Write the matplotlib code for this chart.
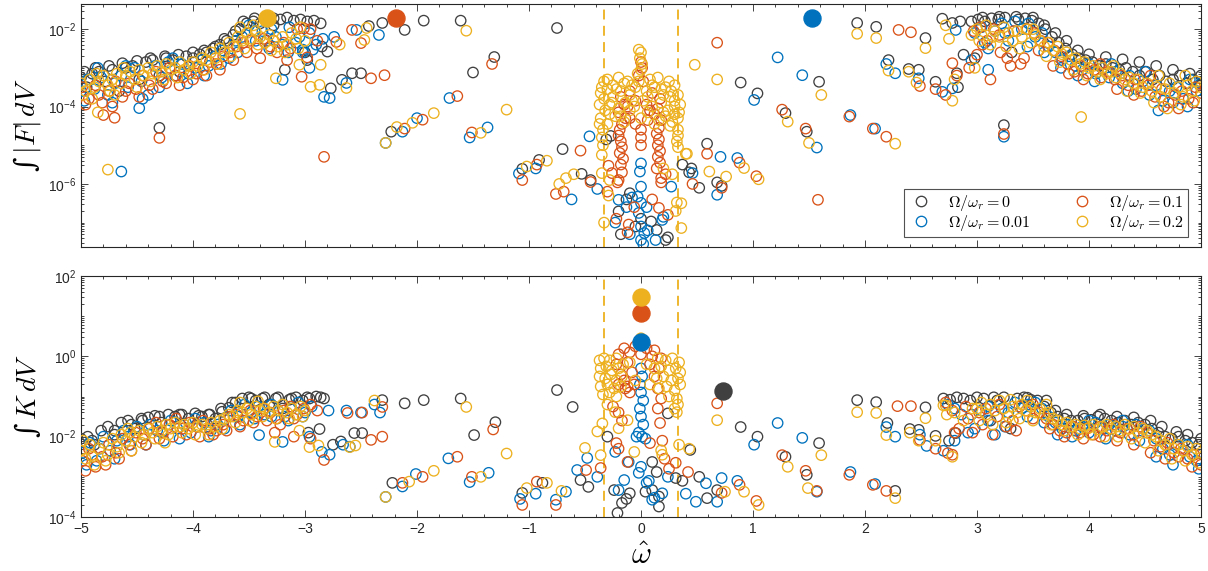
import numpy as np
import matplotlib
matplotlib.use("Agg")
import matplotlib.pyplot as plt
from matplotlib.lines import Line2D
from matplotlib.ticker import FixedLocator, LogLocator, MultipleLocator, NullFormatter, LogFormatterSciNotation

plt.rcParams["mathtext.fontset"] = "cm"
plt.rcParams["font.family"] = ["Liberation Sans", "DejaVu Sans"]

# (omega_hat, log10 value) pairs for each rotation rate
ratio_labels = [r"$\Omega/\omega_r = 0$", r"$\Omega/\omega_r = 0.01$",
                r"$\Omega/\omega_r = 0.1$", r"$\Omega/\omega_r = 0.2$"]
colors = ["#404040", "#0072BD", "#D95319", "#EDB120"]

# ---------------- integral of |F| ----------------
top_w0 = [
    (-5.00, -3.25), (-4.95, -3.50), (-4.90, -3.15), (-4.84, -3.10), (-4.78, -3.35), (-4.72, -3.05),
    (-4.66, -3.60), (-4.60, -3.00), (-4.54, -2.95), (-4.48, -3.30), (-4.42, -2.85), (-4.36, -2.80),
    (-4.30, -3.20), (-4.24, -2.75), (-4.18, -2.80), (-4.12, -3.10), (-4.06, -2.70), (-4.00, -2.75),
    (-3.94, -2.65), (-3.88, -2.60), (-3.82, -2.50), (-3.76, -2.40), (-3.70, -2.30), (-3.64, -2.15),
    (-3.58, -2.00), (-3.52, -1.85), (-3.46, -1.80), (-3.40, -1.85), (-3.34, -2.30), (-3.28, -1.90),
    (-3.22, -1.75), (-3.16, -1.70), (-3.10, -1.78), (-3.04, -1.75), (-2.98, -1.80), (-2.92, -1.78),
    (-2.86, -1.85),
    (-4.97, -3.10), (-4.87, -3.00), (-4.75, -2.95), (-4.63, -2.88), (-4.50, -2.82), (-4.38, -2.75),
    (-4.25, -2.70), (-4.13, -2.66), (-4.00, -2.60), (-3.90, -2.55), (-3.80, -2.45), (-3.72, -2.25),
    (-3.62, -2.05), (-3.55, -1.80), (-3.45, -1.72), (-3.35, -1.75), (-3.28, -1.72),
    (2.95, -1.80), (3.01, -1.75), (3.07, -1.80), (3.13, -1.72), (3.19, -1.75), (3.25, -1.70),
    (3.31, -2.60), (3.37, -1.75), (3.43, -1.72), (3.49, -1.78), (3.55, -1.85), (3.61, -2.00),
    (3.67, -2.20), (3.73, -2.35), (3.79, -2.50), (3.85, -2.65), (3.91, -2.75), (3.97, -2.80),
    (4.03, -2.85), (4.09, -2.95), (4.15, -2.90), (4.21, -3.00), (4.27, -3.05), (4.33, -3.00),
    (4.39, -3.10), (4.45, -3.20), (4.51, -3.10), (4.57, -3.30), (4.63, -3.20), (4.69, -3.35),
    (4.75, -3.30), (4.81, -3.20), (4.87, -3.40), (4.93, -3.30), (4.99, -3.45),
    (3.05, -1.70), (3.20, -1.68), (3.35, -1.68), (3.50, -1.70), (3.60, -1.90), (3.70, -2.10),
    (3.80, -2.30), (3.90, -2.55), (4.00, -2.65), (4.15, -2.72), (4.30, -2.78), (4.45, -2.85),
    (4.60, -2.95), (4.75, -3.05), (4.90, -3.15), (5.00, -3.20),
    (-4.30, -4.55), (-3.00, -2.60), (-2.85, -2.45), (-2.80, -2.58), (-2.98, -2.80), (-3.18, -3.05),
    (-2.77, -3.53), (-2.67, -3.31), (-2.58, -3.14), (-2.50, -3.14), (-2.43, -1.92), (-2.31, -1.84),
    (-2.11, -2.02), (-1.94, -1.78), (-1.61, -1.78), (-0.75, -1.97), (-2.23, -4.65), (-1.50, -3.12),
    (-1.31, -2.72), (-1.06, -5.61), (-0.91, -5.38), (-0.70, -5.10), (-0.53, -5.74), (-0.45, -5.90),
    (-0.27, -4.76), (-0.31, -4.85), (-0.10, -6.24), (-0.13, -6.40), (-0.20, -6.71), (-0.18, -7.30),
    (0.00, -6.90), (-0.05, -7.10), (0.09, -6.97), (0.14, -7.19), (0.22, -7.45), (0.24, -7.38),
    (0.37, -5.50), (0.45, -5.60), (0.43, -5.70), (0.52, -6.10), (0.59, -4.96), (0.68, -5.96),
    (0.72, -6.05), (0.89, -3.38), (1.04, -3.66), (1.29, -4.17), (1.48, -4.65), (1.59, -3.36),
    (1.93, -1.84), (2.10, -1.94), (2.54, -2.23), (2.69, -1.73), (2.78, -1.84), (2.85, -1.80),
    (2.21, -2.80), (2.39, -3.03), (2.48, -3.05), (2.63, -3.36), (2.82, -3.14), (2.83, -3.50),
    (2.88, -2.66), (2.98, -2.75), (3.24, -4.48),
]

top_w001 = [
    (-5.00, -3.60), (-4.94, -3.30), (-4.88, -3.55), (-4.82, -3.25), (-4.76, -3.70), (-4.70, -3.40),
    (-4.64, -3.20), (-4.58, -3.50), (-4.52, -3.00), (-4.46, -3.35), (-4.40, -3.70), (-4.34, -2.95),
    (-4.28, -3.25), (-4.22, -2.85), (-4.16, -3.20), (-4.10, -2.90), (-4.04, -3.15), (-3.98, -3.00),
    (-3.92, -2.80), (-3.86, -2.95), (-3.80, -2.70), (-3.74, -2.55), (-3.68, -2.75), (-3.62, -2.30),
    (-3.56, -2.20), (-3.50, -1.90), (-3.44, -2.30), (-3.38, -2.05), (-3.32, -2.50), (-3.26, -2.20),
    (-3.20, -2.40), (-3.14, -1.95), (-3.08, -2.35), (-3.02, -2.60), (-2.96, -2.10), (-2.90, -2.40),
    (-2.84, -2.25),
    (-4.97, -3.85), (-4.85, -3.00), (-4.72, -3.90), (-4.60, -2.95), (-4.45, -3.80), (-4.30, -3.50),
    (-4.18, -2.75), (-4.05, -3.40), (-3.90, -3.20), (-3.75, -2.90), (-3.60, -2.60), (-3.45, -2.05),
    (-3.30, -2.00), (-3.15, -2.60), (-3.05, -2.20),
    (2.98, -2.10), (3.04, -1.95), (3.10, -2.50), (3.16, -2.05), (3.22, -1.85), (3.28, -2.30),
    (3.34, -1.80), (3.40, -2.00), (3.46, -1.85), (3.52, -2.20), (3.58, -2.10), (3.64, -2.45),
    (3.70, -2.60), (3.76, -2.80), (3.82, -2.70), (3.88, -2.95), (3.94, -3.05), (4.00, -2.90),
    (4.06, -3.15), (4.12, -3.00), (4.18, -3.25), (4.24, -3.10), (4.30, -3.40), (4.36, -3.20),
    (4.42, -3.55), (4.48, -3.35), (4.54, -3.70), (4.60, -3.45), (4.66, -3.85), (4.72, -3.60),
    (4.78, -3.50), (4.84, -3.80), (4.90, -3.30), (4.96, -3.60),
    (3.07, -2.35), (3.25, -2.10), (3.45, -2.45), (3.60, -2.60), (3.75, -3.00), (3.90, -3.20),
    (4.05, -3.35), (4.20, -2.90), (4.35, -3.60), (4.50, -3.10), (4.62, -4.10), (4.75, -3.90),
    (4.88, -4.00), (5.00, -3.40),
    (-4.64, -5.68), (-4.48, -4.04), (-2.54, -2.02), (-2.34, -2.15), (-3.02, -2.53), (-2.93, -2.53),
    (-2.74, -2.20), (-3.20, -3.31), (-2.96, -3.00), (-2.83, -3.75), (-2.78, -3.78), (-2.63, -3.39),
    (-2.28, -4.94), (-2.13, -4.65), (-2.00, -4.30), (-1.71, -3.78), (-1.53, -4.80), (-1.37, -4.54),
    (-1.09, -5.73), (-0.94, -5.60), (-0.62, -6.40), (-0.46, -4.77), (-0.39, -6.13),
    (0.00, -5.47), (-0.01, -5.68), (0.00, -6.07), (-0.03, -6.33), (0.00, -6.49), (-0.02, -6.75),
    (0.00, -7.10), (0.03, -7.27), (0.00, -7.45), (-0.08, -6.35), (-0.20, -6.41), (-0.13, -6.60),
    (0.05, -6.60), (0.13, -7.45), (0.19, -6.93), (0.27, -6.07), (-0.23, -7.00), (0.20, -6.85),
    (0.06, -7.20), (-0.10, -7.30), (0.02, -7.55),
    (0.46, -5.72), (0.71, -5.30), (0.68, -6.28), (0.86, -5.33), (1.01, -3.83), (1.22, -2.73),
    (1.44, -3.19), (1.57, -5.06), (1.87, -4.22), (2.09, -4.57), (2.19, -2.90), (2.27, -3.14),
    (2.48, -3.27), (2.69, -3.62), (2.78, -3.53), (2.81, -2.02), (2.95, -2.80), (3.10, -3.05),
    (3.24, -4.78),
]

top_w01 = [
    (-4.99, -3.50), (-4.93, -3.80), (-4.87, -3.45), (-4.81, -3.90), (-4.75, -3.60), (-4.69, -3.35),
    (-4.63, -3.75), (-4.57, -3.40), (-4.51, -3.55), (-4.45, -3.20), (-4.39, -3.45), (-4.33, -3.10),
    (-4.27, -3.35), (-4.21, -3.00), (-4.15, -3.20), (-4.09, -3.25), (-4.03, -2.95), (-3.97, -3.15),
    (-3.91, -3.05), (-3.85, -2.85), (-3.79, -2.90), (-3.73, -2.70), (-3.67, -2.60), (-3.61, -2.45),
    (-3.55, -2.35), (-3.49, -2.30), (-3.43, -2.50), (-3.37, -2.25), (-3.31, -2.45), (-3.25, -2.60),
    (-3.19, -2.35), (-3.13, -2.50), (-3.07, -2.00), (-3.01, -1.98), (-2.95, -2.00), (-2.89, -2.30),
    (-4.96, -3.95), (-4.84, -3.70), (-4.72, -4.00), (-4.60, -3.60), (-4.48, -3.75), (-4.36, -3.55),
    (-4.24, -3.40), (-4.12, -3.45), (-4.00, -3.30), (-3.88, -3.20), (-3.76, -3.05), (-3.64, -2.80),
    (-3.52, -2.60), (-3.40, -2.75), (-3.28, -2.30), (-3.16, -2.80),
    (2.97, -2.05), (3.03, -1.95), (3.09, -2.30), (3.15, -2.00), (3.21, -2.60), (3.27, -2.75),
    (3.33, -2.05), (3.39, -2.90), (3.45, -2.00), (3.51, -2.10), (3.57, -2.30), (3.63, -2.35),
    (3.69, -2.55), (3.75, -2.70), (3.81, -2.90), (3.87, -3.10), (3.93, -2.95), (3.99, -3.15),
    (4.05, -3.05), (4.11, -3.25), (4.17, -3.10), (4.23, -3.30), (4.29, -3.20), (4.35, -3.45),
    (4.41, -3.30), (4.47, -3.60), (4.53, -3.45), (4.59, -3.75), (4.65, -3.55), (4.71, -3.90),
    (4.77, -3.70), (4.83, -3.60), (4.89, -3.80), (4.95, -3.50), (5.00, -3.65),
    (3.05, -2.40), (3.20, -2.15), (3.30, -2.95), (3.42, -2.75), (3.55, -2.55), (3.68, -2.95),
    (3.82, -3.15), (3.95, -3.30), (4.10, -2.90), (4.25, -3.55), (4.40, -3.70), (4.55, -3.20),
    (4.67, -4.00), (4.80, -4.05), (4.93, -3.90),
    (-4.80, -4.22), (-4.70, -4.29), (-4.30, -4.81), (-2.58, -2.02), (-2.50, -2.36), (-2.72, -2.33),
    (-2.98, -2.73), (-3.03, -3.23), (-2.41, -3.27), (-2.29, -3.19), (-2.83, -5.30), (-2.11, -4.57),
    (-1.95, -4.34), (-1.64, -3.73), (-1.33, -2.90), (-1.51, -4.67), (-1.06, -5.90), (-0.93, -5.50),
    (-0.76, -6.26), (-0.69, -6.20), (-0.54, -5.14), (-0.45, -5.95),
    (0.00, -2.85), (0.01, -3.00), (-0.02, -3.20), (0.02, -3.35), (-0.10, -3.60), (0.10, -3.65),
    (-0.18, -3.75), (0.17, -3.80), (-0.05, -3.85), (0.05, -3.95), (-0.15, -3.95), (0.15, -4.05),
    (-0.20, -4.15), (0.12, -4.20), (-0.10, -4.30), (0.18, -4.35), (-0.17, -4.45), (0.16, -4.55),
    (-0.19, -4.60), (0.00, -4.60), (0.00, -4.80), (0.00, -5.00), (-0.20, -4.75), (0.14, -4.70),
    (-0.18, -4.90), (0.16, -4.85), (-0.17, -5.05), (0.15, -5.00), (-0.19, -5.20), (0.17, -5.15),
    (-0.16, -5.35), (0.15, -5.30), (-0.18, -5.50), (0.17, -5.45), (-0.17, -5.70), (0.14, -5.60),
    (-0.20, -5.90), (0.18, -5.85), (-0.29, -5.53), (-0.26, -5.72), (-0.21, -5.96), (0.18, -5.96),
    (0.22, -5.75), (-0.22, -6.90), (-0.11, -7.05), (-0.12, -7.25), (0.10, -6.40), (0.16, -6.62),
    (0.24, -6.80), (-0.30, -6.20), (-0.06, -6.60),
    (-0.12, -4.00), (0.08, -4.10), (-0.05, -4.45), (0.06, -4.35), (-0.14, -4.30),
    (0.68, -2.35), (0.59, -5.22), (0.72, -6.10), (0.88, -5.45), (1.03, -5.80), (1.26, -4.08),
    (1.47, -4.57), (1.58, -6.41), (1.86, -4.26), (2.07, -4.57), (2.19, -4.78), (2.30, -2.02),
    (2.41, -2.08), (2.49, -3.47), (2.63, -3.55), (2.72, -3.70), (2.78, -2.88), (2.82, -3.20),
    (3.00, -2.66), (2.93, -3.00), (3.12, -3.30), (3.24, -4.71), (0.46, -6.00),
]

top_w02 = [
    (-5.00, -3.40), (-4.96, -3.60), (-4.92, -3.30), (-4.88, -3.50), (-4.84, -3.35), (-4.80, -3.20),
    (-4.76, -3.45), (-4.72, -3.30), (-4.68, -3.15), (-4.64, -3.40), (-4.60, -3.20), (-4.56, -3.10),
    (-4.52, -3.30), (-4.48, -3.05), (-4.44, -3.20), (-4.40, -3.00), (-4.36, -3.15), (-4.32, -2.95),
    (-4.28, -3.10), (-4.24, -2.90), (-4.20, -3.05), (-4.16, -3.00), (-4.12, -2.85), (-4.08, -3.05),
    (-4.04, -2.95), (-4.00, -2.85), (-3.96, -2.95), (-3.92, -2.75), (-3.88, -2.80), (-3.84, -2.60),
    (-3.80, -2.75), (-3.76, -2.50), (-3.72, -2.60), (-3.68, -2.35), (-3.64, -2.45), (-3.60, -2.20),
    (-3.56, -2.30), (-3.52, -2.10), (-3.48, -2.25), (-3.44, -2.05), (-3.40, -2.20), (-3.36, -2.35),
    (-3.32, -2.15), (-3.28, -2.30), (-3.24, -2.45), (-3.20, -2.20), (-3.16, -2.40), (-3.12, -2.10),
    (-3.08, -2.25), (-3.04, -1.95), (-3.00, -2.30), (-4.90, -3.80), (-4.70, -3.70),
    (-4.98, -3.70), (-4.86, -3.15), (-4.74, -3.60), (-4.62, -3.00), (-4.50, -3.50), (-4.38, -3.35),
    (-4.26, -3.30), (-4.14, -3.25), (-4.02, -3.15), (-3.90, -3.05), (-3.78, -2.90), (-3.66, -2.70),
    (-3.54, -2.50), (-3.42, -2.40), (-3.30, -2.55), (-3.18, -2.60), (-3.06, -2.50), (-3.58, -1.95),
    (-3.46, -1.90),
    (3.00, -2.00), (3.04, -2.15), (3.08, -1.90), (3.12, -2.40), (3.16, -2.05), (3.20, -2.20),
    (3.24, -1.95), (3.28, -2.10), (3.32, -2.30), (3.36, -2.05), (3.40, -2.20), (3.44, -2.00),
    (3.48, -2.35), (3.52, -2.15), (3.56, -2.30), (3.60, -2.45), (3.64, -2.35), (3.68, -2.55),
    (3.72, -2.45), (3.76, -2.65), (3.80, -2.60), (3.84, -2.80), (3.88, -2.75), (3.92, -2.90),
    (3.96, -2.85), (4.00, -3.00), (4.04, -2.95), (4.08, -3.10), (4.12, -3.00), (4.16, -3.15),
    (4.20, -3.10), (4.24, -3.25), (4.28, -3.15), (4.32, -3.30), (4.36, -3.25), (4.40, -3.40),
    (4.44, -3.30), (4.48, -3.50), (4.52, -3.40), (4.56, -3.60), (4.60, -3.50), (4.64, -3.75),
    (4.68, -3.55), (4.72, -3.40), (4.76, -3.65), (4.80, -3.50), (4.84, -3.75), (4.88, -3.45),
    (4.92, -3.60), (4.96, -3.35), (5.00, -3.50),
    (3.02, -2.30), (3.14, -2.20), (3.26, -2.45), (3.38, -2.50), (3.50, -2.00), (3.62, -2.70),
    (3.74, -2.85), (3.86, -3.05), (3.98, -3.20), (4.10, -3.30), (4.22, -2.95), (4.34, -3.60),
    (4.46, -3.65), (4.58, -3.90), (4.70, -4.05), (4.82, -3.95), (4.94, -3.85), (4.62, -3.20),
    (4.86, -3.20),
    (-4.76, -5.63), (-3.58, -4.19), (-4.85, -4.15), (-2.47, -2.28), (-2.45, -1.97), (-2.69, -2.40),
    (-3.05, -2.92), (-2.86, -2.92), (-2.95, -3.49), (-2.87, -3.44), (-3.26, -3.27), (-2.63, -3.52),
    (-2.28, -4.94), (-2.18, -4.53), (-2.04, -4.42), (-1.85, -4.17), (-1.56, -2.04), (-1.43, -4.68),
    (-1.20, -4.08), (-1.02, -5.55), (-0.84, -5.40), (-0.73, -6.00), (-0.67, -5.85), (-0.60, -5.75),
    (-0.02, -2.53), (0.00, -2.60), (-0.01, -2.75), (0.01, -2.90), (0.00, -3.05), (-0.03, -3.15),
    (-0.30, -3.30), (-0.20, -3.25), (-0.12, -3.35), (0.08, -3.30), (0.15, -3.25), (0.25, -3.35),
    (0.30, -3.45), (-0.35, -3.50), (-0.25, -3.45), (0.22, -3.50), (-0.08, -3.45),
    (-0.36, -3.65), (-0.30, -3.55), (-0.25, -3.75), (-0.18, -3.60), (-0.10, -3.70), (-0.05, -3.50),
    (0.05, -3.60), (0.12, -3.50), (0.20, -3.70), (0.27, -3.60), (0.33, -3.70), (0.30, -3.85),
    (0.06, -3.75), (-0.33, -3.80), (0.35, -3.95),
    (-0.37, -3.95), (-0.32, -4.10), (-0.26, -3.90), (-0.20, -4.05), (-0.14, -3.90), (-0.06, -4.00),
    (0.02, -3.85), (0.10, -4.00), (0.18, -3.90), (0.24, -4.10), (0.30, -4.00), (0.34, -4.15),
    (-0.36, -4.30), (-0.30, -4.45), (-0.23, -4.25), (-0.15, -4.40), (0.00, -4.30), (0.16, -4.35),
    (0.22, -4.25), (0.28, -4.40), (0.33, -4.30), (-0.28, -4.20), (0.26, -4.50),
    (-0.33, -3.35), (-0.22, -3.55), (-0.15, -3.40), (-0.02, -3.35), (0.10, -3.45), (0.18, -3.55),
    (0.26, -3.75), (-0.28, -3.95), (-0.10, -4.10), (0.06, -4.15), (0.20, -4.15), (-0.18, -4.25),
    (0.12, -4.45), (0.30, -4.20), (-0.37, -4.45), (-0.08, -3.85),
    (-0.34, -4.60), (-0.35, -4.80), (-0.34, -5.00), (0.33, -4.60), (0.33, -4.75), (0.32, -4.90),
    (0.33, -5.05), (-0.35, -5.25), (-0.35, -5.72), (-0.29, -6.30), (-0.33, -7.00), (0.32, -6.48),
    (0.36, -7.14), (0.31, -6.70), (0.40, -5.22), (0.36, -6.50), (-0.28, -5.90), (0.20, -5.60),
    (0.28, -5.75),
    (0.48, -2.92), (0.68, -3.30), (0.41, -5.22), (0.61, -5.68), (0.76, -5.81), (0.92, -5.59),
    (1.05, -5.88), (1.31, -4.39), (1.50, -4.94), (1.61, -3.70), (1.93, -2.12), (2.10, -2.23),
    (2.54, -2.49), (2.27, -4.96), (2.21, -3.07), (2.39, -3.10), (2.46, -3.38), (2.78, -3.85),
    (2.72, -1.90), (2.75, -2.25), (3.93, -4.27), (2.80, -3.30), (2.98, -3.00), (2.95, -2.15),
]

# filled markers: one per series where drawn
top_filled = [(None, None), (1.53, -1.71), (-2.19, -1.71), (-3.34, -1.71)]

# ---------------- integral of K ----------------
bot_w0 = [
    (-5.00, -2.05), (-4.94, -2.00), (-4.88, -2.20), (-4.82, -1.85), (-4.76, -1.75), (-4.70, -1.95),
    (-4.64, -1.65), (-4.58, -1.60), (-4.52, -1.80), (-4.46, -1.55), (-4.40, -1.52), (-4.34, -1.48),
    (-4.28, -1.65), (-4.22, -1.45), (-4.16, -1.50), (-4.10, -1.45), (-4.04, -1.55), (-3.98, -1.42),
    (-3.92, -1.50), (-3.86, -1.45), (-3.80, -1.55), (-3.74, -1.38), (-3.68, -1.28), (-3.62, -1.15),
    (-3.56, -1.05), (-3.50, -1.02), (-3.44, -1.10), (-3.38, -1.05), (-3.32, -1.20), (-3.26, -1.05),
    (-3.20, -1.30), (-3.14, -1.08), (-3.08, -1.02), (-3.02, -1.10), (-2.96, -1.05), (-2.90, -1.00),
    (-2.86, -1.02),
    (-4.90, -2.10), (-4.70, -1.85), (-4.55, -1.70), (-4.45, -1.60), (-4.30, -1.50), (-4.12, -1.45),
    (-3.95, -1.48), (-3.85, -1.45), (-3.75, -1.30), (-3.65, -1.15), (-3.48, -1.05), (-3.36, -1.02),
    (-3.24, -1.02), (-3.12, -1.05), (-2.98, -1.02),
    (2.70, -1.05), (2.76, -1.08), (2.82, -1.02), (2.88, -1.05), (2.94, -1.10), (3.00, -1.02),
    (3.06, -1.05), (3.12, -1.60), (3.18, -1.10), (3.24, -1.02), (3.30, -1.80), (3.36, -1.05),
    (3.42, -1.02), (3.48, -1.08), (3.54, -1.10), (3.60, -1.25), (3.66, -1.40), (3.72, -1.50),
    (3.78, -1.55), (3.84, -1.60), (3.90, -1.60), (3.96, -1.55), (4.02, -1.58), (4.08, -1.50),
    (4.14, -1.55), (4.20, -1.60), (4.26, -1.65), (4.32, -1.60), (4.38, -1.70), (4.44, -1.65),
    (4.50, -1.70), (4.56, -1.80), (4.62, -1.90), (4.68, -2.00), (4.74, -2.05), (4.80, -2.00),
    (4.86, -2.10), (4.92, -2.15), (4.98, -2.20),
    (3.15, -1.02), (3.45, -1.03), (3.62, -1.10), (3.70, -1.35), (3.80, -1.45), (3.95, -1.48),
    (4.10, -1.45), (4.25, -1.50), (4.40, -1.52), (4.55, -1.60), (4.65, -1.75), (4.78, -1.88),
    (4.88, -1.95), (5.00, -2.05),
    (-2.83, -1.05), (-2.31, -1.09), (-2.11, -1.17), (-1.94, -1.09), (-1.61, -1.05), (-1.30, -1.64),
    (-1.49, -1.96), (-2.87, -1.81), (-2.97, -1.90), (-2.75, -2.20), (-2.68, -2.12), (-2.56, -1.91),
    (-2.49, -1.91), (-2.22, -3.15),
    (-0.75, -0.84), (-0.61, -1.26), (-0.30, -2.00), (-0.24, -3.33), (-0.21, -3.90), (-0.17, -3.65),
    (-0.13, -3.55), (-0.10, -3.41), (0.04, -3.37), (0.10, -2.63), (0.14, -2.88), (0.10, -3.33),
    (0.16, -3.49), (0.16, -3.74), (0.24, -1.42), (0.31, -3.03), (0.37, -3.10), (0.44, -2.33),
    (0.52, -3.00), (0.59, -3.53), (0.68, -3.33), (-0.54, -3.08), (-0.47, -3.25), (-0.88, -3.15),
    (-1.06, -3.40),
    (0.89, -1.76), (1.04, -2.00), (1.29, -2.50), (1.48, -2.95), (1.59, -2.16), (1.93, -1.09),
    (2.10, -1.14), (2.20, -1.66), (2.27, -3.35), (2.40, -1.81), (2.48, -1.83), (2.54, -1.27),
    (2.63, -1.98), (2.81, -1.91), (2.75, -2.10),
]

bot_w001 = [
    (-4.98, -2.40), (-4.92, -2.15), (-4.86, -2.60), (-4.80, -2.00), (-4.74, -2.35), (-4.68, -2.10),
    (-4.62, -1.85), (-4.56, -2.20), (-4.50, -1.75), (-4.44, -1.95), (-4.38, -1.70), (-4.32, -1.85),
    (-4.26, -2.10), (-4.20, -1.60), (-4.14, -1.80), (-4.08, -1.70), (-4.02, -1.90), (-3.96, -1.75),
    (-3.90, -1.65), (-3.84, -1.85), (-3.78, -1.70), (-3.72, -1.55), (-3.66, -1.35), (-3.60, -1.50),
    (-3.54, -1.20), (-3.48, -1.40), (-3.42, -1.25), (-3.36, -1.45), (-3.30, -1.20), (-3.24, -1.35),
    (-3.18, -1.50), (-3.12, -1.30), (-3.06, -1.15), (-3.00, -1.40), (-2.94, -1.25),
    (-4.95, -2.70), (-4.83, -2.30), (-4.70, -2.55), (-4.58, -2.00), (-4.42, -2.20), (-4.28, -1.90),
    (-4.12, -2.05), (-3.98, -1.55), (-3.86, -2.00), (-3.72, -1.80), (-3.58, -1.70), (-3.45, -1.55),
    (-3.30, -1.50), (-3.15, -1.60), (-3.02, -1.50),
    (2.74, -1.20), (2.80, -1.30), (2.86, -1.45), (2.92, -1.90), (2.98, -1.80), (3.04, -1.35),
    (3.10, -1.25), (3.16, -1.95), (3.22, -1.30), (3.28, -1.40), (3.34, -1.15), (3.40, -1.30),
    (3.46, -1.20), (3.52, -1.15), (3.58, -1.30), (3.64, -1.50), (3.70, -1.65), (3.76, -1.80),
    (3.82, -1.70), (3.88, -1.85), (3.94, -1.75), (4.00, -1.90), (4.06, -1.65), (4.12, -1.80),
    (4.18, -1.70), (4.24, -1.85), (4.30, -1.75), (4.36, -1.95), (4.42, -1.70), (4.48, -1.80),
    (4.54, -1.85), (4.60, -2.05), (4.66, -2.30), (4.72, -2.45), (4.78, -2.20), (4.84, -2.35),
    (4.90, -2.50), (4.96, -2.60),
    (2.95, -1.45), (3.10, -1.60), (3.25, -1.75), (3.45, -1.50), (3.60, -1.65), (3.72, -1.95),
    (3.85, -2.00), (4.00, -1.60), (4.15, -2.05), (4.30, -1.60), (4.45, -2.10), (4.60, -2.50),
    (4.75, -2.70), (4.88, -2.20), (4.98, -2.80),
    (-3.41, -1.96), (-3.20, -2.13), (-2.96, -2.00), (-2.85, -2.38), (-2.78, -2.45), (-2.66, -2.20),
    (-2.60, -2.25), (-2.79, -1.35), (-2.63, -1.35), (-2.50, -1.40), (-2.38, -1.20), (-2.33, -1.40),
    (-2.28, -3.50), (-2.13, -3.24), (-2.01, -2.93), (-1.72, -2.54), (-1.53, -3.13), (-1.36, -2.90),
    (-1.08, -3.55), (-0.94, -3.42),
    (0.00, -0.30), (0.01, -0.50), (-0.01, -0.70), (0.00, -0.90), (0.02, -1.10), (-0.01, -1.30),
    (0.00, -1.50), (0.02, -1.70), (-0.02, -1.90), (0.01, -2.00), (0.04, -2.05), (-0.04, -2.00),
    (-0.02, -2.90), (0.00, -2.75), (-0.20, -3.33), (-0.15, -3.08), (-0.11, -2.63), (0.05, -3.15),
    (0.07, -3.10), (0.10, -3.57), (0.12, -3.52), (0.19, -3.41), (0.24, -3.00), (-0.23, -2.38),
    (-0.57, -2.83), (-0.48, -2.53), (-0.39, -3.00), (-0.76, -3.57), (-0.67, -3.37), (0.40, -3.42),
    (0.49, -3.62), (0.58, -3.16), (0.68, -3.62), (0.72, -3.03), (0.86, -3.10),
    (1.01, -2.20), (1.22, -1.66), (1.44, -2.03), (1.57, -3.37), (1.87, -2.88), (2.09, -3.18),
    (2.19, -1.76), (2.27, -2.00), (2.49, -1.95), (2.55, -2.23), (2.70, -2.35), (2.80, -2.10),
]

bot_w01 = [
    (-4.99, -2.60), (-4.93, -2.30), (-4.87, -2.75), (-4.81, -2.50), (-4.75, -2.20), (-4.69, -2.40),
    (-4.63, -2.05), (-4.57, -2.20), (-4.51, -1.90), (-4.45, -2.05), (-4.39, -1.80), (-4.33, -1.65),
    (-4.27, -1.90), (-4.21, -1.70), (-4.15, -1.55), (-4.09, -1.80), (-4.03, -1.65), (-3.97, -1.75),
    (-3.91, -1.60), (-3.85, -1.80), (-3.79, -1.85), (-3.73, -1.70), (-3.67, -1.50), (-3.61, -1.45),
    (-3.55, -1.60), (-3.49, -1.35), (-3.43, -1.50), (-3.37, -1.30), (-3.31, -1.40), (-3.25, -1.55),
    (-3.19, -1.35), (-3.13, -1.25), (-3.07, -1.45), (-3.01, -1.30), (-2.95, -1.20), (-2.89, -1.35),
    (-4.96, -2.85), (-4.90, -2.45), (-4.78, -2.70), (-4.66, -2.55), (-4.55, -2.35), (-4.42, -2.20),
    (-4.30, -2.05), (-4.18, -2.00), (-4.06, -1.95), (-3.94, -2.00), (-3.82, -1.95), (-3.70, -1.85),
    (-3.58, -1.75), (-3.46, -1.65), (-3.34, -1.60), (-3.22, -1.70), (-3.10, -1.55),
    (2.72, -1.15), (2.78, -1.35), (2.84, -1.80), (2.90, -1.25), (2.96, -1.90), (3.02, -1.40),
    (3.08, -1.30), (3.14, -1.95), (3.20, -1.20), (3.26, -1.75), (3.32, -1.60), (3.38, -1.25),
    (3.44, -1.35), (3.50, -1.20), (3.56, -1.40), (3.62, -1.55), (3.68, -1.70), (3.74, -1.85),
    (3.80, -1.90), (3.86, -1.75), (3.92, -1.90), (3.98, -1.80), (4.04, -1.95), (4.10, -1.75),
    (4.16, -1.85), (4.22, -1.70), (4.28, -1.90), (4.34, -1.80), (4.40, -1.95), (4.46, -1.75),
    (4.52, -1.90), (4.58, -2.10), (4.64, -2.25), (4.70, -2.15), (4.76, -2.40), (4.82, -2.30),
    (4.88, -2.55), (4.94, -2.45), (5.00, -2.70),
    (2.92, -1.55), (3.05, -1.70), (3.18, -1.50), (3.35, -1.85), (3.50, -1.55), (3.65, -1.80),
    (3.78, -2.00), (3.95, -2.05), (4.10, -2.00), (4.25, -2.10), (4.40, -2.20), (4.55, -2.40),
    (4.68, -2.55), (4.80, -2.50), (4.92, -2.75),
    (-3.27, -1.90), (-3.10, -2.00), (-2.95, -2.05), (-2.83, -2.58), (-2.62, -1.41), (-2.49, -1.40),
    (-2.41, -2.08), (-2.31, -2.00), (-2.31, -1.26), (-2.13, -3.15), (-1.95, -3.00), (-1.64, -2.50),
    (-1.32, -1.82), (-1.51, -3.00), (-1.06, -3.70), (-0.93, -3.12), (-0.76, -3.70),
    (-0.15, 0.20), (-0.05, 0.25), (0.05, 0.20), (0.12, 0.15), (-0.20, 0.05), (-0.10, 0.10),
    (0.00, 0.05), (0.10, 0.00), (0.18, -0.05), (-0.22, -0.20), (-0.12, -0.15), (0.08, -0.20),
    (0.16, -0.30), (-0.18, -0.45), (-0.08, -0.40), (0.12, -0.50), (-0.20, -0.70), (-0.12, -0.75),
    (-0.15, -0.60), (-0.10, -0.90), (0.15, -0.80), (0.18, -1.05), (0.15, -1.30), (0.17, -1.66),
    (-0.14, -0.80), (-0.06, -0.70), (-0.25, -1.25), (-0.20, -1.40), (-0.17, -1.60), (-0.22, -2.16),
    (-0.20, -2.30), (-0.12, -2.63), (0.08, -2.16), (0.19, -2.10), (0.21, -2.55), (0.31, -2.65),
    (0.42, -2.88), (0.25, -2.80), (-0.49, -2.83), (-0.36, -2.78),
    (0.68, -1.17), (0.72, -3.40), (0.88, -3.20), (1.03, -3.60), (1.26, -2.46), (1.47, -2.85),
    (1.57, -3.35), (1.86, -2.95), (2.07, -3.20), (2.19, -3.35), (2.29, -1.24), (2.41, -1.24),
    (2.49, -2.08), (2.63, -2.30), (2.74, -2.41), (2.78, -2.45), (2.80, -1.90),
]

bot_w02 = [
    (-5.00, -2.35), (-4.96, -2.55), (-4.92, -2.20), (-4.88, -2.70), (-4.84, -2.30), (-4.80, -2.15),
    (-4.76, -2.45), (-4.72, -2.05), (-4.68, -2.25), (-4.64, -1.95), (-4.60, -2.10), (-4.56, -1.90),
    (-4.52, -2.00), (-4.48, -1.85), (-4.44, -1.95), (-4.40, -1.80), (-4.36, -1.90), (-4.32, -1.75),
    (-4.28, -1.85), (-4.24, -1.70), (-4.20, -1.80), (-4.16, -1.65), (-4.12, -1.75), (-4.08, -1.70),
    (-4.04, -1.80), (-4.00, -1.65), (-3.96, -1.75), (-3.92, -1.70), (-3.88, -1.80), (-3.84, -1.65),
    (-3.80, -1.75), (-3.76, -1.60), (-3.72, -1.55), (-3.68, -1.45), (-3.64, -1.50), (-3.60, -1.35),
    (-3.56, -1.40), (-3.52, -1.30), (-3.48, -1.45), (-3.44, -1.25), (-3.40, -1.35), (-3.36, -1.30),
    (-3.32, -1.40), (-3.28, -1.25), (-3.24, -1.35), (-3.20, -1.20), (-3.16, -1.40), (-3.12, -1.30),
    (-3.08, -1.45), (-3.04, -1.25), (-3.00, -1.35), (-4.55, -2.35), (-4.25, -2.15),
    (-4.98, -2.10), (-4.90, -2.50), (-4.78, -2.60), (-4.66, -2.40), (-4.58, -1.80), (-4.46, -2.15),
    (-4.34, -2.05), (-4.22, -1.95), (-4.10, -1.90), (-3.98, -1.95), (-3.86, -1.95), (-3.74, -1.80),
    (-3.62, -1.65), (-3.50, -1.60), (-3.38, -1.50), (-3.26, -1.55), (-3.14, -1.55), (-3.02, -1.50),
    (-3.58, -1.15), (-3.42, -1.12),
    (2.72, -1.22), (2.80, -1.40), (2.88, -1.60), (2.96, -1.30),
    (3.00, -1.30), (3.04, -1.15), (3.08, -1.45), (3.12, -1.20), (3.16, -1.35), (3.20, -1.10),
    (3.24, -1.30), (3.28, -1.50), (3.32, -1.25), (3.36, -1.40), (3.40, -1.20), (3.44, -1.35),
    (3.48, -1.25), (3.52, -1.40), (3.56, -1.30), (3.60, -1.45), (3.64, -1.40), (3.68, -1.55),
    (3.72, -1.60), (3.76, -1.70), (3.80, -1.65), (3.84, -1.75), (3.88, -1.70), (3.92, -1.80),
    (3.96, -1.72), (4.00, -1.78), (4.04, -1.70), (4.08, -1.82), (4.12, -1.75), (4.16, -1.70),
    (4.20, -1.80), (4.24, -1.75), (4.28, -1.85), (4.32, -1.70), (4.36, -1.80), (4.40, -1.75),
    (4.44, -1.90), (4.48, -1.80), (4.52, -1.85), (4.56, -1.95), (4.60, -2.00), (4.64, -2.10),
    (4.68, -2.20), (4.72, -2.05), (4.76, -2.30), (4.80, -2.20), (4.84, -2.35), (4.88, -2.25),
    (4.92, -2.45), (4.96, -2.30), (5.00, -2.40),
    (3.02, -1.60), (3.14, -1.70), (3.26, -1.65), (3.38, -1.55), (3.50, -1.60), (3.62, -1.20),
    (3.66, -1.70), (3.78, -1.85), (3.90, -1.95), (4.02, -1.95), (4.14, -2.00), (4.26, -2.00),
    (4.38, -2.05), (4.50, -2.15), (4.62, -2.35), (4.74, -2.55), (4.86, -2.60), (4.98, -2.65),
    (3.45, -1.10), (3.30, -1.08),
    (-3.27, -2.13), (-3.05, -1.85), (-2.96, -2.26), (-2.88, -2.22), (-2.60, -2.26), (-2.55, -2.22),
    (-2.28, -3.50), (-2.07, -3.12), (-2.38, -1.10), (-1.85, -2.85), (-1.56, -1.26), (-1.43, -3.00),
    (-1.20, -2.42), (-1.02, -3.28), (-0.84, -3.15), (-0.71, -3.35), (-0.50, -2.28),
    (0.00, 0.45),
    (-0.37, -0.10), (-0.33, -0.05), (-0.28, -0.10), (-0.22, -0.05), (-0.36, -0.30), (-0.31, -0.25),
    (-0.26, -0.35), (-0.20, -0.30), (-0.16, -0.20), (-0.37, -0.50), (-0.32, -0.55), (-0.27, -0.45),
    (-0.22, -0.60), (-0.17, -0.50), (-0.36, -0.75), (-0.30, -0.70), (-0.24, -0.80), (-0.18, -0.75),
    (-0.34, -0.95), (-0.28, -0.90), (-0.22, -1.00),
    (0.15, -0.05), (0.22, -0.10), (0.28, -0.05), (0.34, -0.15), (0.12, -0.30), (0.18, -0.25),
    (0.25, -0.35), (0.31, -0.30), (0.35, -0.40), (0.14, -0.55), (0.20, -0.50), (0.27, -0.60),
    (0.33, -0.55), (0.16, -0.80), (0.23, -0.75), (0.30, -0.85), (0.35, -0.70), (0.25, -1.00),
    (0.32, -1.05), (0.33, -1.20),
    (-0.10, -0.15), (0.05, -0.20), (-0.05, -0.60), (0.08, -0.70),
    (-0.30, -1.20), (-0.23, -1.39), (-0.12, -1.59), (-0.20, -1.79), (0.32, -1.39), (0.30, -1.30),
    (-0.345, -1.67), (-0.39, -1.87), (-0.36, -2.46), (-0.06, -2.38), (0.18, -2.34), (0.19, -2.45),
    (0.34, -2.20),
    (0.43, -2.30), (0.68, -1.59), (0.75, -3.37), (0.92, -3.37), (1.05, -3.70), (1.31, -2.75),
    (1.49, -3.28), (1.61, -2.46), (1.93, -1.39), (2.10, -1.41), (2.19, -1.96), (2.27, -3.53),
    (2.40, -1.90), (2.48, -2.10), (2.54, -1.54), (2.63, -2.10), (2.78, -2.50), (2.70, -1.22),
    (2.73, -1.45),
]

bot_filled = [(0.73, -0.86), (0.00, 0.36), (0.00, 1.09), (0.00, 1.47)]


def draw_panel(ax, series, filled):
    for z, (pts, color) in enumerate(zip(series, colors)):
        arr = np.array(pts, dtype=float)
        ax.scatter(arr[:, 0], 10.0 ** arr[:, 1], s=56, facecolors="none",
                   edgecolors=color, linewidths=0.95, zorder=3 + z)
    for (fx, fy), color in zip(filled, colors):
        if fx is None:
            continue
        ax.scatter([fx], [10.0 ** fy], s=150, color=color, zorder=10)
    # window edges around zero frequency
    for xv in (-1 / 3, 1 / 3):
        ax.axvline(xv, color="#EDB120", lw=1.3, ls=(0, (5.5, 3.5)), zorder=2)
    ax.set_xlim(-5, 5)
    ax.set_yscale("log")
    ax.xaxis.set_major_locator(MultipleLocator(1))
    ax.xaxis.set_minor_locator(MultipleLocator(0.2))
    ax.yaxis.set_minor_locator(LogLocator(base=10, subs=np.arange(1, 10), numticks=30))
    ax.yaxis.set_minor_formatter(NullFormatter())
    ax.tick_params(which="both", direction="in", top=True, right=True,
                   colors="#262626", labelsize=10, width=0.6)
    ax.tick_params(which="major", length=5)
    ax.tick_params(which="minor", length=2.5)
    for sp in ax.spines.values():
        sp.set_color("#262626")
        sp.set_linewidth(0.8)


fig = plt.figure(figsize=(12.08, 5.71), dpi=100)
W, H = 1208.0, 571.0
ax_top = fig.add_axes([81 / W, 1 - 247 / H, 1120 / W, 243 / H])
ax_bot = fig.add_axes([81 / W, 1 - 517 / H, 1120 / W, 241 / H])

# integral sign set as slanted serif text so its box stays tight
ylabel_font = dict(fontsize=20, family=["DejaVu Serif"], fontstyle="italic")

draw_panel(ax_top, [top_w0, top_w001, top_w01, top_w02], top_filled)
ax_top.set_ylim(10 ** -7.63, 10 ** -1.35)
ax_top.yaxis.set_major_locator(FixedLocator([1e-6, 1e-4, 1e-2]))
ax_top.yaxis.set_major_formatter(LogFormatterSciNotation())
ax_top.tick_params(labelbottom=False)
ax_top.set_ylabel("\u222b" + r"$\,|F|\,dV$", **ylabel_font)
ax_top.yaxis.set_label_coords(-38 / 1120, 0.5)

draw_panel(ax_bot, [bot_w0, bot_w001, bot_w01, bot_w02], bot_filled)
ax_bot.set_ylim(1e-4, 1e2)
ax_bot.yaxis.set_major_locator(FixedLocator([1e-4, 1e-2, 1e0, 1e2]))
ax_bot.yaxis.set_major_formatter(LogFormatterSciNotation())
ax_bot.set_ylabel("\u222b" + r"$\,K\,dV$", **ylabel_font)
ax_bot.yaxis.set_label_coords(-38 / 1120, 0.5)
ax_bot.set_xlabel(r"$\hat{\omega}$", fontsize=22, labelpad=4)

handles = [Line2D([], [], ls="none", marker="o", markersize=7.5, markerfacecolor="none",
                  markeredgecolor=c, markeredgewidth=0.95) for c in colors]
leg = ax_top.legend(handles, ratio_labels, loc="lower right", ncol=2, fontsize=11.5,
                    bbox_to_anchor=(1 - 13 / 1120, 10 / 243), borderaxespad=0,
                    frameon=True, fancybox=False, edgecolor="#262626",
                    handlelength=1.6, handletextpad=0.9, columnspacing=2.4,
                    borderpad=0.25, labelspacing=0.02)
leg.get_frame().set_linewidth(0.8)

fig.savefig("out.png", dpi=100)
